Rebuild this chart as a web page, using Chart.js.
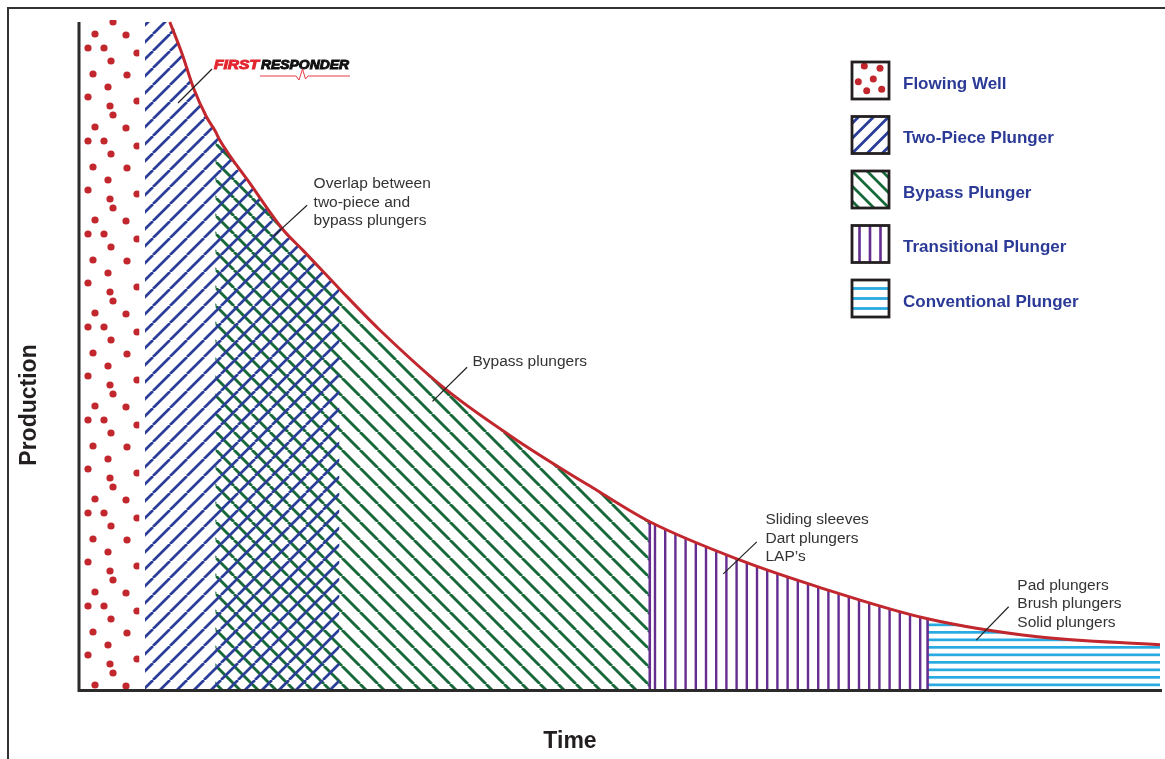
<!DOCTYPE html>
<html><head><meta charset="utf-8">
<script src="https://cdn.jsdelivr.net/npm/chart.js@4.4.1/dist/chart.umd.min.js"></script>
<style>html,body{margin:0;padding:0;background:#fff;}#wrap{width:1165px;height:759px;}</style>
</head><body><div id="wrap"><canvas id="c" width="1165" height="759"></canvas></div>
<script>
// ---- data (time vs production, arbitrary units 0..100) ----
const curveTime = [8.4, 9.5, 10.6, 11.8, 12.6, 13.0, 15.8, 18.9, 20.7, 24.1, 27.8, 34.0, 40.5, 47.9, 52.8, 61.1, 68.5, 78.5, 88.7, 100];
const curveProd = [99.7, 95.1, 89.8, 85.5, 83.4, 82.1, 75.6, 68.6, 65.6, 59.8, 53.7, 44.7, 37.2, 29.7, 25.0, 19.3, 15.2, 10.5, 7.8, 6.6];
const regionNames = ['Flowing Well', 'Two-Piece Plunger', 'Bypass Plunger', 'Transitional Plunger', 'Conventional Plunger'];
const regionStart = [0, 6.1, 12.6, 52.8, 78.5];
const regionEnd = [5.6, 24.1, 52.8, 78.5, 100];
const prodTop = 100;
const axisTitles = ['Time', 'Production'];
const noteTexts = [
  ['Overlap between', 'two-piece and', 'bypass plungers'],
  ['Bypass plungers'],
  ['Sliding sleeves', 'Dart plungers', 'LAP\u2019s'],
  ['Pad plungers', 'Brush plungers', 'Solid plungers']
];
const noteTime = [21.7, 36.4, 63.5, 86.8];
const noteProd = [75.5, 48.9, 25.3, 15.5];
const leaderFromTime = [21.1, 35.9, 62.7, 86.0];
const leaderFromProd = [72.3, 48.1, 22.0, 12.3];
const leaderToTime = [18.0, 32.7, 59.6, 83.0];
const leaderToProd = [67.7, 43.0, 17.2, 7.3];

// ---- styles ----
const RED = '#c1272d', BLUE = '#2a3d98', GREEN = '#17693a', PURPLE = '#662d91', LBLUE = '#29abe2';
const LEGEND_TEXT = '#2b3a96', INK = '#333333';
const canvas = document.getElementById('c');
const ctx = canvas.getContext('2d');

function tile(w, h, draw) {
  const c = document.createElement('canvas'); c.width = w; c.height = h;
  draw(c.getContext('2d'));
  return ctx.createPattern(c, 'repeat');
}
function diag(s, color, lw, dir) {
  return tile(s, s, g => {
    g.strokeStyle = color; g.lineWidth = lw; g.beginPath();
    for (let k = -1; k <= 1; k++) {
      if (dir > 0) { g.moveTo(k * s, s); g.lineTo(k * s + s, 0); }
      else { g.moveTo(k * s, 0); g.lineTo(k * s + s, s); }
    }
    g.stroke();
  });
}
const dotTile = [[88,4],[137,8],[110,13],[113,22],[95,34],[126,35],[88,48],[104,48],[137,53],[111,61],[93,74],[127,75],[108,87]];
const patterns = [
  tile(140, 93, g => { g.fillStyle = RED; dotTile.forEach(([x, y]) => { for (const dy of [-93, 0, 93]) { g.beginPath(); g.arc(x, y + dy, 3.6, 0, Math.PI * 2); g.fill(); } }); }),
  diag(17, BLUE, 2.7, 1),
  diag(18, GREEN, 2.9, -1),
  tile(51, 10, g => { g.fillStyle = PURPLE; for (let i = 0; i < 5; i++) g.fillRect(1 + i * 10.2, 0, 2.4, 10); }),
  tile(10, 15, g => { g.fillStyle = LBLUE; g.fillRect(0, 1, 10, 2.7); g.fillRect(0, 8.5, 10, 2.7); })
];

function regionData(i) {
  const s = regionStart[i], e = regionEnd[i];
  if (e < curveTime[0]) return [{x: s, y: prodTop}, {x: e, y: prodTop}];
  const pts = [];
  if (s < curveTime[0]) pts.push({x: s, y: curveProd[0]});
  curveTime.forEach((t, j) => { if (t >= s && t <= e) pts.push({x: t, y: curveProd[j]}); });
  return pts;
}
function prodAt(t) { return curveProd[curveTime.indexOf(t)]; }

const datasets = [
  { label: 'Decline', data: curveTime.map((t, j) => ({x: t, y: curveProd[j]})), borderColor: RED, borderWidth: 3, fill: false, cubicInterpolationMode: 'monotone', pointRadius: 0 },
  { label: 'edge1', data: [{x: regionStart[3], y: 0}, {x: regionStart[3], y: prodAt(regionStart[3])}], borderColor: PURPLE, borderWidth: 2.6, fill: false, pointRadius: 0 },
  { label: 'edge2', data: [{x: regionEnd[3], y: 0}, {x: regionEnd[3], y: prodAt(regionEnd[3])}], borderColor: PURPLE, borderWidth: 2.6, fill: false, pointRadius: 0 }
];
regionNames.forEach((n, i) => datasets.push({
  label: n, data: regionData(i), backgroundColor: patterns[i], borderWidth: 0, borderColor: 'rgba(0,0,0,0)',
  fill: 'origin', cubicInterpolationMode: 'monotone', pointRadius: 0
}));

function legendSwatch(g, i, x, y, s) {
  g.save(); g.beginPath(); g.rect(x, y, s, s); g.clip();
  if (i === 0) {
    g.fillStyle = RED;
    [[12.3,4],[28,6.3],[6.3,19.7],[21.3,17],[29.7,27.3],[14.7,28.7]].forEach(([dx, dy]) => { g.beginPath(); g.arc(x + dx, y + dy, 3.5, 0, Math.PI * 2); g.fill(); });
  } else if (i === 1 || i === 2) {
    g.strokeStyle = i === 1 ? BLUE : GREEN; g.lineWidth = 2.8; g.beginPath();
    for (let k = -2; k <= 2; k++) {
      if (i === 1) { g.moveTo(x + k * 15, y + s); g.lineTo(x + k * 15 + s, y); }
      else { g.moveTo(x + k * 15, y); g.lineTo(x + k * 15 + s, y + s); }
    }
    g.stroke();
  } else if (i === 3) {
    g.fillStyle = PURPLE; [7.5, 18, 28.5].forEach(dx => g.fillRect(x + dx - 1.3, y, 2.6, s));
  } else {
    g.fillStyle = LBLUE; [8.5, 18.5, 28.5].forEach(dy => g.fillRect(x, y + dy - 1.4, s, 2.8));
  }
  g.restore();
  g.strokeStyle = '#231f20'; g.lineWidth = 2.8; g.strokeRect(x, y, s, s);
}

const decor = {
  id: 'decor',
  afterDraw(chart) {
    const g = chart.ctx, xs = chart.scales.x, ys = chart.scales.y, a = chart.chartArea;
    g.save();
    // frame
    g.strokeStyle = INK; g.lineWidth = 2; g.strokeRect(8, 8, 1300, 900);
    // axes
    g.strokeStyle = '#2b2b2b'; g.lineWidth = 3; g.lineCap = 'butt';
    g.beginPath(); g.moveTo(a.left, 22); g.lineTo(a.left, a.bottom + 1.5); g.lineTo(a.right + 2, a.bottom + 1.5); g.stroke();
    // axis titles
    g.fillStyle = '#231f20'; g.font = 'bold 23px "Liberation Sans", Arial, sans-serif';
    g.textAlign = 'center'; g.textBaseline = 'middle';
    g.fillText(axisTitles[0], 570, 742);
    g.save(); g.translate(30, 405); g.rotate(-Math.PI / 2); g.fillText(axisTitles[1], 0, 0); g.restore();
    // notes
    g.font = '15.5px "Liberation Sans", Arial, sans-serif'; g.fillStyle = INK; g.textAlign = 'left';
    noteTexts.forEach((lines, i) => {
      const px = xs.getPixelForValue(noteTime[i]), py = ys.getPixelForValue(noteProd[i]);
      lines.forEach((t, k) => g.fillText(t, px, py + k * 18.5));
      g.strokeStyle = '#222'; g.lineWidth = 1.2; g.beginPath();
      g.moveTo(xs.getPixelForValue(leaderFromTime[i]), ys.getPixelForValue(leaderFromProd[i]));
      g.lineTo(xs.getPixelForValue(leaderToTime[i]), ys.getPixelForValue(leaderToProd[i]));
      g.stroke();
    });
    // logo
    g.strokeStyle = '#222'; g.lineWidth = 1.2; g.beginPath(); g.moveTo(212, 69); g.lineTo(178, 103); g.stroke();
    g.font = 'italic bold 12px "Liberation Sans", Arial, sans-serif'; g.textBaseline = 'alphabetic';
    const drawScaled = (txt, x, w, col) => {
      const m = g.measureText(txt).width; g.save(); g.translate(x, 69); g.scale(w / m, 1.0);
      g.fillStyle = col; g.strokeStyle = col; g.lineWidth = 0.9; g.fillText(txt, 0, 0); g.strokeText(txt, 0, 0); g.restore();
    };
    drawScaled('FIRST', 214, 45, '#e3262f');
    drawScaled('RESPONDER', 261, 88, '#111');
    g.strokeStyle = '#e3262f'; g.lineWidth = 0.9; g.beginPath();
    g.moveTo(260, 76); g.lineTo(296, 76); g.lineTo(299, 80); g.lineTo(302.5, 69); g.lineTo(305.5, 79); g.lineTo(308, 76); g.lineTo(350, 76); g.stroke();
    // legend
    regionNames.forEach((n, i) => {
      const y = 62 + i * 54.5;
      legendSwatch(g, i, 852, y, 37);
      g.fillStyle = LEGEND_TEXT; g.font = 'bold 17px "Liberation Sans", Arial, sans-serif';
      g.textAlign = 'left'; g.textBaseline = 'middle';
      g.fillText(n, 903, y + 22);
    });
    g.restore();
  }
};

new Chart(ctx, {
  type: 'line',
  data: { datasets },
  options: {
    responsive: false, animation: false, devicePixelRatio: 1,
    layout: { padding: { left: 79, top: 20, right: 5, bottom: 70 } },
    scales: {
      x: { type: 'linear', min: 0, max: 100, display: false },
      y: { type: 'linear', min: 0, max: prodTop, display: false }
    },
    plugins: { legend: { display: false }, tooltip: { enabled: false } },
    elements: { point: { radius: 0 } }
  },
  plugins: [decor]
});
</script>
</body></html>
